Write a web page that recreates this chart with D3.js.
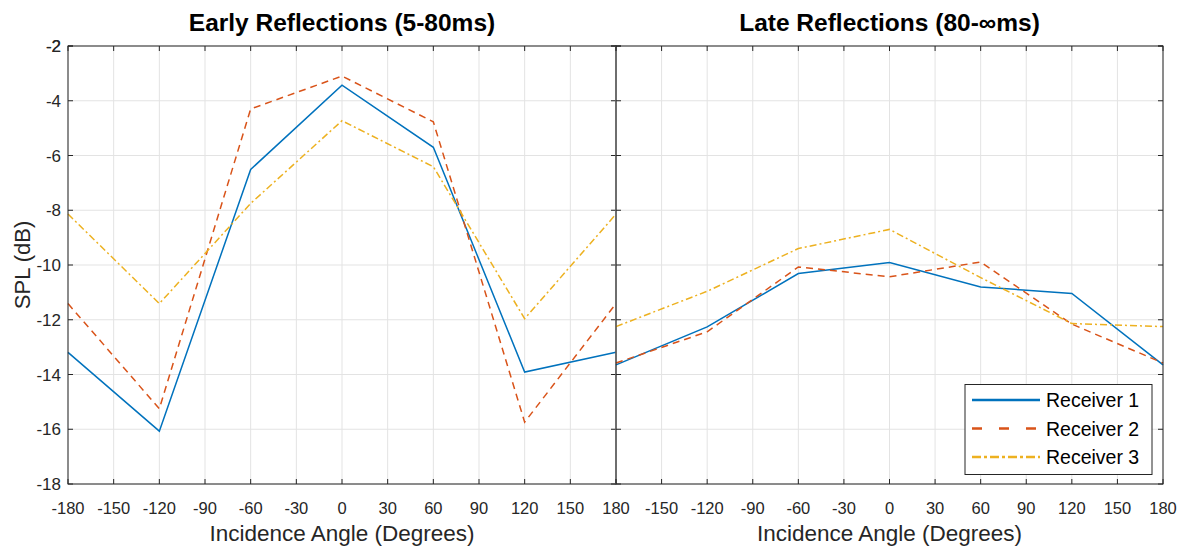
<!DOCTYPE html>
<html>
<head>
<meta charset="utf-8">
<script src="https://cdn.jsdelivr.net/npm/d3@7"></script>
<style>
  body { margin: 0; background: #fff; }
  svg { font-family: "Liberation Sans", Arial, sans-serif; }
</style>
</head>
<body>
<svg id="chart" width="1184" height="548"></svg>
<script>
// angulos de incidencia (graus)
const angles = [-180, -120, -60, 0, 60, 120, 180];
const xTicks = d3.range(-180, 181, 30);
const yTicks = d3.range(-18, -1, 2);

// reflexoes iniciais (5-80ms)
const earlyR1 = [-13.19, -16.07, -6.51, -3.43, -5.70, -13.91, -13.19];
const earlyR2 = [-11.41, -15.25, -4.30, -3.10, -4.77, -15.74, -11.41];
const earlyR3 = [-8.14, -11.41, -7.75, -4.73, -6.41, -11.96, -8.14];

// reflexoes tardias (80-inf ms)
const lateR1 = [-13.65, -12.26, -10.31, -9.91, -10.80, -11.04, -13.65];
const lateR2 = [-13.58, -12.44, -10.07, -10.43, -9.89, -12.16, -13.58];
const lateR3 = [-12.25, -10.96, -9.40, -8.70, -10.46, -12.14, -12.25];

const seriesNames = ['Receiver 1', 'Receiver 2', 'Receiver 3'];
const colors = ['#0072BD', '#D95319', '#EDB120'];
const dashes = [null, '7,5', '7,3,2,3'];

const svg = d3.select('#chart');
const plotTop = 46, plotBottom = 484;

const y = d3.scaleLinear().domain([-18, -2]).range([plotBottom, plotTop]);

function drawPanel(x0, x1, title, data, opts) {
    const x = d3.scaleLinear().domain([-180, 180]).range([x0, x1]);
    const g = svg.append('g');

    // grade
    g.selectAll('line.vgrid').data(xTicks).enter().append('line')
        .attr('x1', d => x(d)).attr('x2', d => x(d))
        .attr('y1', plotTop).attr('y2', plotBottom)
        .attr('stroke', '#e3e3e3').attr('stroke-width', 1);
    g.selectAll('line.hgrid').data(yTicks).enter().append('line')
        .attr('x1', x0).attr('x2', x1)
        .attr('y1', d => y(d)).attr('y2', d => y(d))
        .attr('stroke', '#e3e3e3').attr('stroke-width', 1);

    // linhas dos dados
    const line = d3.line().x((d, i) => x(angles[i])).y(d => y(d));
    data.forEach((vals, k) => {
        g.append('path')
            .attr('d', line(vals))
            .attr('fill', 'none')
            .attr('stroke', colors[k])
            .attr('stroke-width', 1.5)
            .attr('stroke-dasharray', dashes[k]);
    });

    // caixa
    g.append('rect')
        .attr('x', x0).attr('y', plotTop)
        .attr('width', x1 - x0).attr('height', plotBottom - plotTop)
        .attr('fill', 'none').attr('stroke', '#262626').attr('stroke-width', 1);

    // marcas (para dentro)
    const tl = 5;
    xTicks.forEach(t => {
        g.append('line').attr('x1', x(t)).attr('x2', x(t)).attr('y1', plotBottom).attr('y2', plotBottom - tl)
            .attr('stroke', '#262626');
        g.append('line').attr('x1', x(t)).attr('x2', x(t)).attr('y1', plotTop).attr('y2', plotTop + tl)
            .attr('stroke', '#262626');
    });
    yTicks.concat([-2]).forEach(t => {
        g.append('line').attr('x1', x0).attr('x2', x0 + tl).attr('y1', y(t)).attr('y2', y(t))
            .attr('stroke', '#262626');
        g.append('line').attr('x1', x1).attr('x2', x1 - tl).attr('y1', y(t)).attr('y2', y(t))
            .attr('stroke', '#262626');
    });

    // rotulos do eixo x
    g.selectAll('text.xt').data(xTicks.filter(t => !(opts.skipFirst && t === -180))).enter()
        .append('text')
        .attr('x', d => x(d)).attr('y', 514)
        .attr('text-anchor', 'middle')
        .attr('font-size', 16.5).attr('fill', '#262626')
        .text(d => d);

    if (opts.yLabels) {
        g.selectAll('text.yt').data(yTicks.concat([-2])).enter()
            .append('text')
            .attr('x', x0 - 7).attr('y', d => y(d) + 6)
            .attr('text-anchor', 'end')
            .attr('font-size', 17).attr('fill', '#262626')
            .text(d => d);
        svg.append('text')
            .attr('transform', `translate(30,${(plotTop + plotBottom) / 2}) rotate(-90)`)
            .attr('text-anchor', 'middle')
            .attr('font-size', 22).attr('fill', '#262626')
            .text('SPL (dB)');
    }

    svg.append('text')
        .attr('x', (x0 + x1) / 2).attr('y', 541)
        .attr('text-anchor', 'middle')
        .attr('font-size', 22.5).attr('fill', '#262626')
        .text('Incidence Angle (Degrees)');

    svg.append('text')
        .attr('x', (x0 + x1) / 2).attr('y', 31)
        .attr('text-anchor', 'middle')
        .attr('font-size', 24.5).attr('font-weight', 'bold').attr('fill', '#000')
        .text(title);
}

drawPanel(68, 616, 'Early Reflections (5-80ms)', [earlyR1, earlyR2, earlyR3], { yLabels: true });
drawPanel(616, 1163, 'Late Reflections (80-\u221Ems)', [lateR1, lateR2, lateR3], { skipFirst: true });

// legenda
const leg = svg.append('g');
leg.append('rect')
    .attr('x', 965).attr('y', 384.5).attr('width', 187).attr('height', 90)
    .attr('fill', '#fff').attr('stroke', '#262626').attr('stroke-width', 1);
seriesNames.forEach((name, i) => {
    const ly = 400 + i * 28.5;
    leg.append('line')
        .attr('x1', 972).attr('x2', 1040).attr('y1', ly).attr('y2', ly)
        .attr('stroke', colors[i]).attr('stroke-width', 2.5)
        .attr('stroke-dasharray', i === 0 ? null : (i === 1 ? '10,17' : '9,3,3,3'));
    leg.append('text')
        .attr('x', 1046).attr('y', ly + 7)
        .attr('font-size', 19.5).attr('fill', '#000')
        .text(name);
});
</script>
</body>
</html>
